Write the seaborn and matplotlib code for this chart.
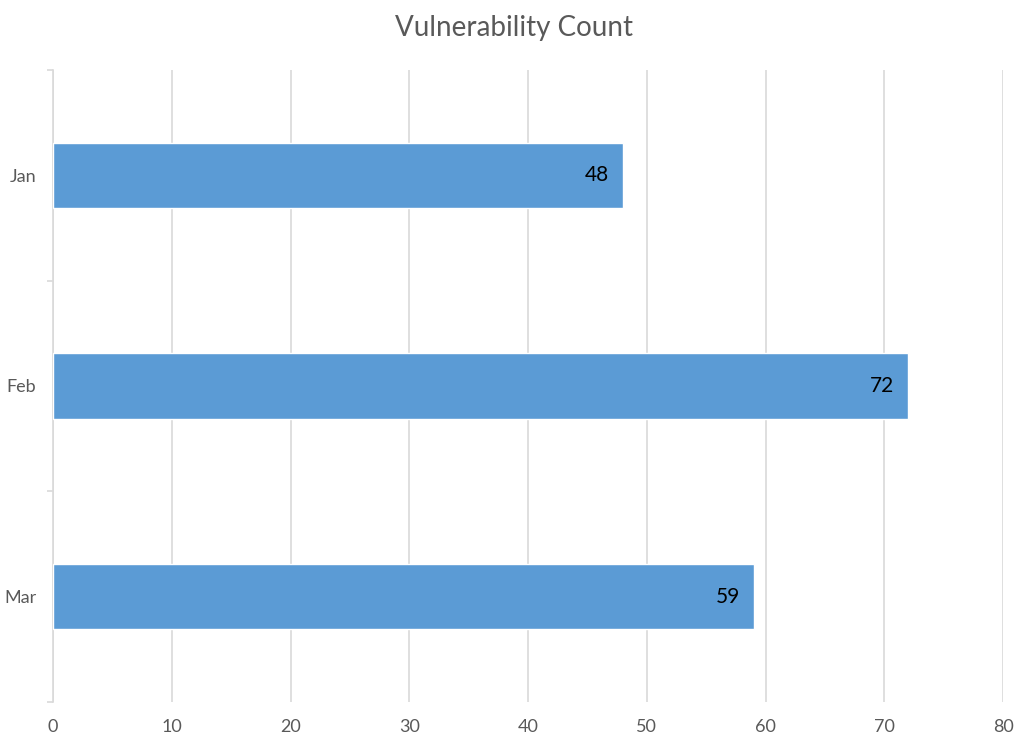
import seaborn as sns
import matplotlib.pyplot as plt
import pandas as pd

# Dados do gráfico
meses = ["Jan", "Feb", "Mar"]
contagem = [48, 72, 59]
titulo = "Vulnerability Count"

df = pd.DataFrame({"Mes": meses, "Contagem": contagem})

sns.set_style("white")
plt.rcParams["font.family"] = ["Lato", "DejaVu Sans"]

fig = plt.figure(figsize=(10.3, 7.5), dpi=100)
ax = fig.add_axes([0.0515, 0.064, 0.9223, 0.8427])

sns.barplot(data=df, y="Mes", x="Contagem", orient="h", color="#5B9BD5",
            saturation=1, width=0.31, ax=ax, zorder=3)

ax.set_xlim(0, 80)
ax.set_ylim(2.5, -0.5)
ax.set_xticks(range(0, 81, 10))
ax.grid(axis="x", color="#d9d9d9", linewidth=1.2, zorder=0)

# rótulos dentro das barras
for i, v in enumerate(contagem):
    ax.annotate(f"{v}", (v, i), xytext=(-10, 0), textcoords="offset points",
                ha="right", va="center", fontsize=15, color="black", zorder=4)

for lado in ["top", "right", "bottom"]:
    ax.spines[lado].set_visible(False)
ax.spines["left"].set_color("#d9d9d9")
ax.spines["left"].set_linewidth(1.2)

ax.set_yticks([-0.5, 0.5, 1.5, 2.5], minor=True)
ax.tick_params(axis="y", which="minor", length=4, color="#d9d9d9", width=1.2, left=True)
ax.tick_params(axis="y", which="major", length=0, pad=12, labelsize=13, labelcolor="#595959")
ax.tick_params(axis="x", length=0, pad=12, labelsize=13, labelcolor="#595959")

ax.set_xlabel("")
ax.set_ylabel("")
fig.suptitle(titulo, x=0.4995, y=0.963, va="center", fontsize=20, color="#595959")

plt.savefig("out.png", dpi=100)
